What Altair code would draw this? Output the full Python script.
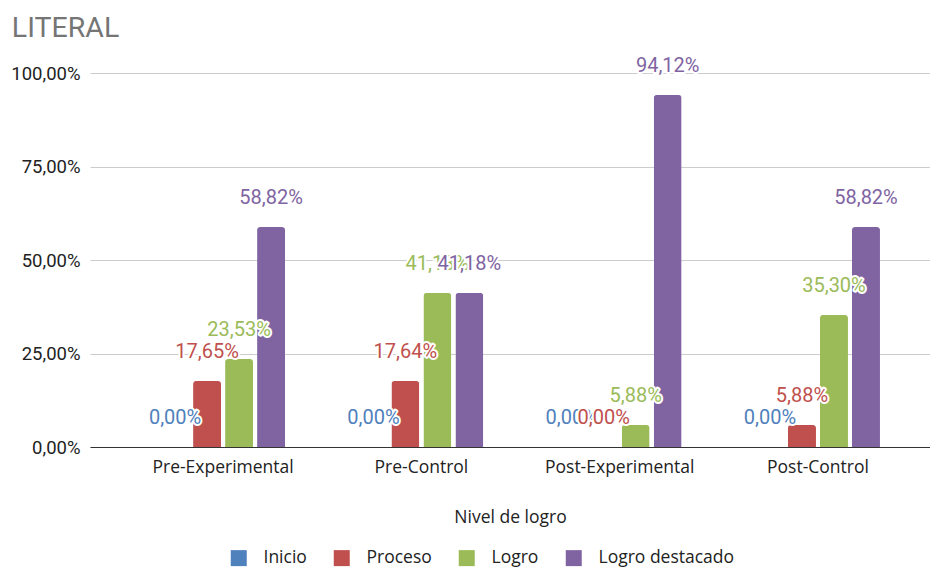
import altair as alt
import pandas as pd

categories = ["Pre-Experimental", "Pre-Control", "Post-Experimental", "Post-Control"]
series = ["Inicio", "Proceso", "Logro", "Logro destacado"]
inicio = [0.00, 0.00, 0.00, 0.00]
proceso = [17.65, 17.64, 0.00, 5.88]
logro = [23.53, 41.18, 5.88, 35.30]
destacado = [58.82, 41.18, 94.12, 58.82]
colors = ["#4f81bd", "#c0504d", "#9bbb59", "#8064a2"]
y_ticks = [0, 25, 50, 75, 100]

rows = []
for s, vals in zip(series, [inicio, proceso, logro, destacado]):
    for c, v in zip(categories, vals):
        rows.append({"cat": c, "serie": s, "valor": v})
df = pd.DataFrame(rows)

x = alt.X(
    "cat:N", sort=categories,
    scale=alt.Scale(paddingInner=0.3747, paddingOuter=0.3054, align=0.587),
    axis=alt.Axis(title="Nivel de logro", grid=False, ticks=False, domainColor="#333333",
                  labelFont="Open Sans", labelFontSize=17.5, labelColor="#222222", labelPadding=11,
                  titleFont="Open Sans", titleFontSize=17.5, titleFontWeight="normal",
                  titleColor="#222222", titlePadding=33, labelAngle=0),
)
xoff = alt.XOffset("serie:N", sort=series, scale=alt.Scale(paddingInner=0.125, paddingOuter=0))
y = alt.Y(
    "valor:Q", scale=alt.Scale(domain=[0, 100]),
    axis=alt.Axis(values=y_ticks, title=None, domain=False, ticks=False, gridColor="#cccccc",
                  labelExpr="replace(format(datum.value, '.2f'), '.', ',') + '%'",
                  labelFont="Roboto", labelFontSize=18.5, labelColor="#222222", labelPadding=10),
)

base = alt.Chart(df).transform_calculate(
    lbl="replace(format(datum.valor, '.2f'), '.', ',') + '%'"
)

bars = base.mark_bar(cornerRadiusTopLeft=3, cornerRadiusTopRight=3).encode(
    x=x, xOffset=xoff, y=y,
    color=alt.Color("serie:N", sort=series, scale=alt.Scale(domain=series, range=colors),
                    legend=alt.Legend(title=None, orient="none", legendX=140, legendY=476,
                                      direction="horizontal", symbolType="square", symbolSize=256,
                                      symbolStrokeWidth=0, labelFont="Open Sans", labelFontSize=17.5,
                                      labelColor="#222222", labelOffset=16, columnPadding=26)),
)

layers = [bars]
for s, col in zip(series, colors):
    sub = base.transform_filter(alt.datum.serie == s)
    halo = sub.mark_text(font="Roboto", fontSize=20, baseline="alphabetic", dy=-23,
                         stroke="white", strokeWidth=4, strokeJoin="round", fill="white").encode(
        x=x, xOffset=xoff, y=y, text="lbl:N")
    txt = sub.mark_text(font="Roboto", fontSize=20, baseline="alphabetic", dy=-23, fill=col).encode(
        x=x, xOffset=xoff, y=y, text="lbl:N")
    layers += [halo, txt]

chart = alt.layer(*layers).properties(
    width=840, height=374,
    title=alt.TitleParams("LITERAL", anchor="start", font="Roboto", fontSize=28.5,
                          fontWeight="normal", color="#757575", dx=1, dy=-9),
    autosize=alt.AutoSizeParams(type="none"),
    padding={"left": 82, "top": 65, "right": 0, "bottom": 120},
).configure_view(stroke=None)

chart.save("out.html", embed_options={"renderer": "svg", "actions": False})
